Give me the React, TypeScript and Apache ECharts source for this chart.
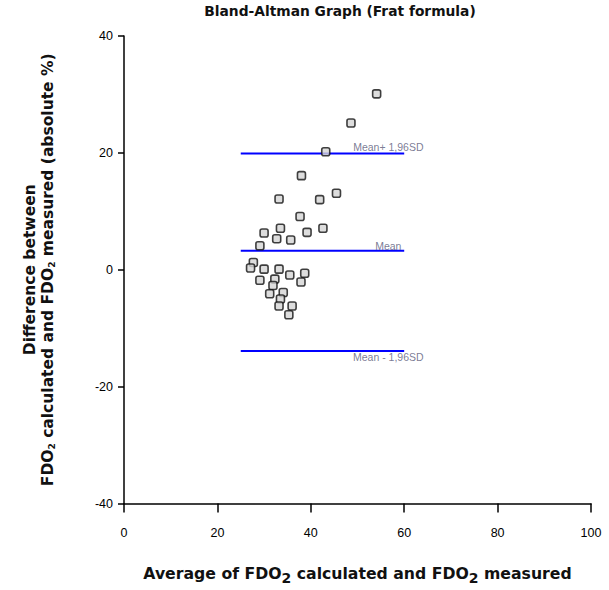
import React, { useEffect, useRef } from "react";
import * as echarts from "echarts";

const avgValues = [54.1, 48.6, 43.2, 38.0, 33.2, 41.9, 45.5, 37.7, 33.5, 42.6, 39.2, 35.7, 32.7, 30.0, 29.1, 27.7, 27.1, 30.0, 33.2, 29.1, 32.3, 31.9, 31.2, 35.5, 38.7, 37.9, 34.1, 33.5, 33.2, 36.0, 35.3];
const diffValues = [30.1, 25.1, 20.2, 16.1, 12.1, 12.0, 13.1, 9.1, 7.1, 7.1, 6.4, 5.1, 5.3, 6.3, 4.1, 1.25, 0.3, 0.1, 0.1, -1.8, -1.6, -2.7, -4.1, -0.9, -0.6, -2.1, -3.9, -5.0, -6.2, -6.2, -7.7];

const refNames = ["Mean+ 1,96SD", "Mean", "Mean - 1,96SD"];
const refValues = [19.9, 3.25, -13.9];
const refStart = 25;
const refEnd = 60;
const refLabelX = 56.6;
const refLabelY = [21.0, 4.1, -14.9];

const xTicks = [0, 20, 40, 60, 80, 100];
const yTicks = [-40, -20, 0, 20, 40];

export default function App() {
  const ref = useRef<HTMLDivElement>(null);
  useEffect(() => {
    if (!ref.current) return;
    const chart = echarts.init(ref.current, null, { renderer: "svg" });
    const font = "DejaVu Sans";
    const tickFont = "Liberation Sans";
    const lineSeries = refValues.map((v, i) => ({
      type: "line",
      name: refNames[i],
      data: [[refStart, v], [refEnd, v]],
      symbol: "none",
      lineStyle: { color: "#0000ff", width: 2 },
      z: 2,
    }));
    chart.setOption({
      animation: false,
      title: {
        text: "Bland-Altman Graph (Frat formula)",
        left: 340,
        textAlign: "center",
        top: 4,
        padding: 0,
        textStyle: { fontFamily: font, fontSize: 13.8, fontWeight: "bold", color: "#111" },
      },
      grid: { left: 124, right: 18, top: 36, bottom: 86.5, outerBoundsMode: "none", containLabel: false },
      xAxis: {
        type: "value",
        min: xTicks[0],
        max: xTicks[xTicks.length - 1],
        interval: 20,
        splitLine: { show: false },
        axisLine: { show: true, onZero: false, lineStyle: { color: "#000", width: 1.5 } },
        axisTick: { show: true, length: 9, lineStyle: { color: "#000", width: 1.5 } },
        axisLabel: { fontFamily: tickFont, fontSize: 12.5, color: "#000", margin: 23 },
        name: "{n|Average of FDO}{s|2}{n| calculated and FDO}{s|2}{n| measured}",
        nameLocation: "middle",
        nameGap: 60,
        nameTextStyle: {
          rich: {
            n: { fontFamily: font, fontSize: 15.7, fontWeight: "bold", color: "#111", lineHeight: 20 },
            s: { fontFamily: font, fontSize: 14, fontWeight: "bold", color: "#111", lineHeight: 20, padding: [9, 0, 0, 0] },
          },
        },
      },
      yAxis: {
        type: "value",
        min: yTicks[0],
        max: yTicks[yTicks.length - 1],
        interval: 20,
        splitLine: { show: false },
        axisLine: { show: true, onZero: false, lineStyle: { color: "#000", width: 1.5 } },
        axisTick: { show: true, length: 6, lineStyle: { color: "#000", width: 1.5 } },
        axisLabel: { fontFamily: tickFont, fontSize: 12.5, color: "#000", margin: 11 },
        name: "{n|Difference between}\n{n|FDO}{s|2}{n| calculated and FDO}{s|2}{n| measured (absolute %)}",
        nameLocation: "middle",
        nameGap: 67,
        nameTextStyle: {
          rich: {
            n: { fontFamily: font, fontSize: 15.5, fontWeight: "bold", color: "#111", lineHeight: 18 },
            s: { fontFamily: font, fontSize: 9, fontWeight: "bold", color: "#111", lineHeight: 18, padding: [7, 0, 0, 0] },
          },
        },
      },
      series: [
        ...lineSeries,
        {
          type: "scatter",
          data: refLabelY.map((y, i) => ({ value: [refLabelX, y], name: refNames[i] })),
          symbolSize: 0,
          silent: true,
          label: {
            show: true,
            position: "inside",
            formatter: (p: any) => p.name,
            fontFamily: tickFont,
            fontSize: 10.5,
            color: "#5a5a7a",
          },
          z: 3,
        },
        {
          type: "scatter",
          data: avgValues.map((x, i) => [x, diffValues[i]]),
          symbol: "roundRect",
          symbolSize: 8,
          itemStyle: { color: "#d4d4d4", borderColor: "#111", borderWidth: 1.6 },
          z: 4,
        },
      ],
    });
    return () => chart.dispose();
  }, []);
  return <div ref={ref} style={{ position: "absolute", left: 0, top: 0, width: 609, height: 590 }} />;
}
